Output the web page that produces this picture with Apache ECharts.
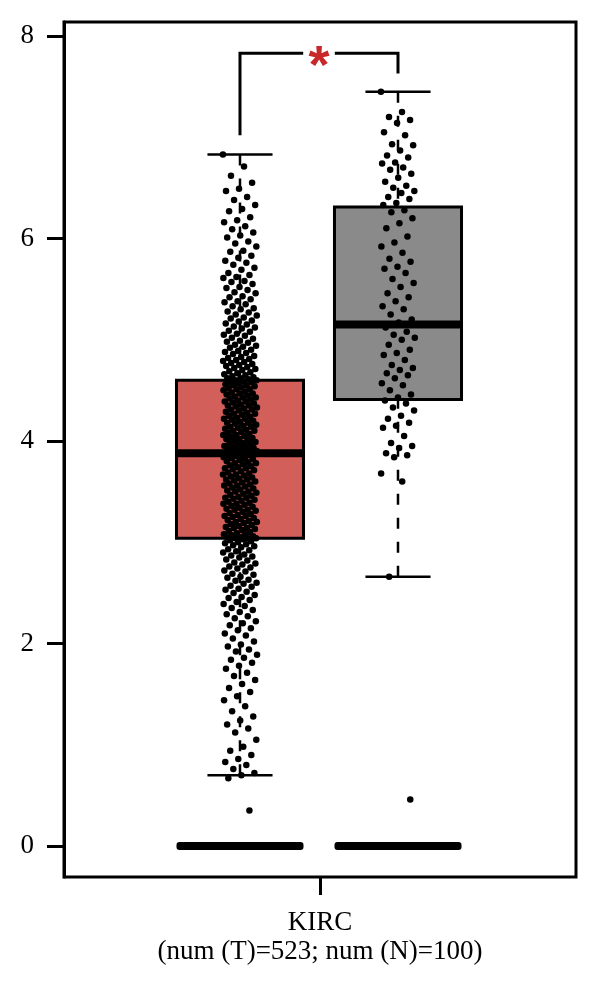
<!DOCTYPE html>
<html><head><meta charset="utf-8">
<script src="https://cdn.jsdelivr.net/npm/echarts@6/dist/echarts.min.js"></script>
<style>html,body{margin:0;padding:0;background:#fff}#c{width:600px;height:987px}</style>
</head><body><div id="c"></div>
<script>
// ---- data ----
const groups = ['Tumor', 'Normal'];
const groupPos = [1, 2];
// [lower whisker, Q1, median, Q3, upper whisker]
const tumorBox = [0.70, 3.04, 3.88, 4.60, 6.83];
const normalBox = [2.66, 4.41, 5.15, 6.31, 7.45];
const zeroLevel = [0, 0];
const yTicks = [0, 2, 4, 6, 8];
const xCategory = ['KIRC\n(num (T)=523; num (N)=100)'];
const bracketY = [7.02, 7.83, 7.63]; // left foot, top, right foot
const sigMark = '*';

const tumorValues = [
6.83,6.71,6.62,6.55,6.49,6.47,6.41,6.38,6.33,6.29,6.27,6.21,6.18,6.16,6.12,6.09,6.06,6.03,6.01,5.97,
5.95,5.92,5.88,5.87,5.83,5.81,5.78,5.76,5.74,5.71,5.69,5.66,5.64,5.62,5.61,5.58,5.57,5.55,5.52,5.51,
5.49,5.47,5.46,5.43,5.42,5.40,5.38,5.37,5.35,5.33,5.31,5.30,5.28,5.27,5.25,5.24,5.22,5.21,5.19,5.18,
5.16,5.15,5.13,5.12,5.11,5.09,5.08,5.06,5.05,5.04,5.02,5.01,4.99,4.98,4.97,4.95,4.94,4.93,4.92,4.90,
4.89,4.88,4.87,4.86,4.84,4.83,4.82,4.81,4.80,4.79,4.78,4.77,4.76,4.75,4.74,4.73,4.72,4.71,4.70,4.69,
4.68,4.67,4.66,4.65,4.64,4.63,4.62,4.62,4.61,4.60,
4.60,4.59,4.58,4.58,4.57,4.56,4.55,4.55,4.54,4.53,4.52,4.51,4.51,4.50,4.49,4.48,4.47,4.47,4.46,4.45,
4.44,4.43,4.43,4.42,4.41,4.40,4.39,4.39,4.38,4.37,4.36,4.35,4.35,4.34,4.33,4.32,4.31,4.31,4.30,4.29,
4.28,4.27,4.27,4.26,4.25,4.24,4.23,4.22,4.22,4.21,4.20,4.19,4.18,4.18,4.17,4.16,4.15,4.14,4.14,4.13,
4.12,4.11,4.10,4.10,4.09,4.08,4.07,4.06,4.06,4.05,4.04,4.03,4.02,4.02,4.01,4.00,3.99,3.98,3.98,3.97,
3.96,3.95,3.95,3.94,3.93,3.93,3.92,3.91,3.91,3.90,3.90,3.89,3.89,3.88,3.88,3.88,3.87,3.87,3.86,3.86,
3.86,3.85,3.84,3.83,3.83,3.82,3.81,3.80,3.79,3.78,3.78,3.77,3.76,3.75,3.74,3.73,3.73,3.72,3.71,3.70,
3.69,3.68,3.67,3.67,3.66,3.65,3.64,3.63,3.62,3.62,3.61,3.60,3.59,3.58,3.57,3.56,3.56,3.55,3.54,3.53,
3.52,3.51,3.50,3.50,3.49,3.48,3.47,3.46,3.45,3.44,3.44,3.43,3.42,3.41,3.40,3.39,3.38,3.38,3.37,3.36,
3.35,3.34,3.33,3.32,3.32,3.31,3.30,3.29,3.28,3.27,3.26,3.26,3.25,3.24,3.23,3.22,3.21,3.20,3.20,3.19,
3.18,3.17,3.16,3.15,3.14,3.14,3.13,3.12,3.11,3.10,3.09,3.08,3.08,3.07,3.06,3.05,3.05,3.04,3.04,3.04,
3.03,3.02,3.01,3.00,2.99,2.98,2.97,2.96,2.95,2.93,2.92,2.91,2.90,2.88,2.87,2.86,2.85,2.83,2.82,2.80,
2.79,2.78,2.76,2.75,2.74,2.72,2.71,2.69,2.68,2.66,2.65,2.63,2.62,2.60,2.59,2.57,2.56,2.54,2.53,2.51,
2.50,2.48,2.46,2.45,2.43,2.41,2.39,2.37,2.35,2.33,2.31,2.29,2.27,2.25,2.22,2.20,2.18,2.15,2.13,2.10,
2.08,2.05,2.02,1.99,1.97,1.94,1.92,1.89,1.86,1.84,1.81,1.78,1.75,1.71,1.68,1.64,1.60,1.56,1.52,1.48,
1.44,1.38,1.33,1.28,1.24,1.20,1.16,1.12,1.05,0.98,0.94,0.90,0.86,0.83,0.80,0.76,0.72,0.70,0.67,0.35
];

const normalValues = [
7.45,7.25,7.20,7.17,7.14,7.05,7.02,6.93,6.92,6.87,6.82,6.80,6.75,6.74,6.70,6.68,6.64,6.60,6.56,6.52,
6.50,6.47,6.45,6.41,6.39,6.35,6.33,6.28,6.26,6.20,6.15,6.10,6.02,5.96,5.92,5.86,5.80,5.77,5.72,5.70,
5.66,5.60,5.56,5.52,5.46,5.42,5.38,5.33,5.30,5.25,5.20,5.17,5.12,5.08,5.05,5.02,5.00,4.95,4.90,4.87,
4.85,4.80,4.75,4.72,4.70,4.67,4.65,4.62,4.57,4.55,4.50,4.46,4.43,4.40,4.37,4.33,4.30,4.25,4.22,4.18,
4.15,4.13,4.05,3.98,3.95,3.93,3.88,3.86,3.84,3.68,3.60,2.66,0.46
];

// ---- chart ----
const boxColors = ['#d35f5a', '#8a8a8a'];
const HALF_BOX = 0.402, HALF_CAP = 0.206, JITTER = 0.108;
const jitter = i => ((i * 0.6180339887) % 1 - 0.5) * 2 * JITTER;

function renderBox(params, api) {
  const x = api.value(0);
  const lo = api.value(1), q1 = api.value(2), med = api.value(3), q3 = api.value(4), hi = api.value(5);
  const tl = api.coord([x - HALF_BOX, q3]), br = api.coord([x + HALF_BOX, q1]);
  const mL = api.coord([x - HALF_BOX, med]), mR = api.coord([x + HALF_BOX, med]);
  const pHi = api.coord([x, hi]), pQ3 = api.coord([x, q3]), pQ1 = api.coord([x, q1]), pLo = api.coord([x, lo]);
  const cL = api.coord([x - HALF_CAP, hi])[0], cR = api.coord([x + HALF_CAP, hi])[0];
  const lw = {stroke: '#000', lineWidth: 2.5};
  return {type: 'group', children: [
    {type: 'line', shape: {x1: pHi[0], y1: pHi[1], x2: pQ3[0], y2: pQ3[1]}, style: Object.assign({lineDash: [11, 13]}, lw)},
    {type: 'line', shape: {x1: pLo[0], y1: pLo[1], x2: pQ1[0], y2: pQ1[1]}, style: Object.assign({lineDash: [11, 13]}, lw)},
    {type: 'line', shape: {x1: cL, y1: pHi[1], x2: cR, y2: pHi[1]}, style: lw},
    {type: 'line', shape: {x1: cL, y1: pLo[1], x2: cR, y2: pLo[1]}, style: lw},
    {type: 'rect', shape: {x: tl[0], y: tl[1], width: br[0] - tl[0], height: br[1] - tl[1]},
      style: {fill: boxColors[params.dataIndex], stroke: '#000', lineWidth: 3}},
    {type: 'line', shape: {x1: mL[0], y1: mL[1], x2: mR[0], y2: mR[1]}, style: {stroke: '#000', lineWidth: 8}, z2: 10}
  ]};
}

function renderZero(params, api) {
  const a = api.coord([api.value(0) - HALF_BOX, api.value(1)]);
  const b = api.coord([api.value(0) + HALF_BOX, api.value(1)]);
  return {type: 'rect', shape: {x: a[0], y: a[1] - 4, width: b[0] - a[0], height: 8, r: 3}, style: {fill: '#000'}};
}

function renderBracket(params, api) {
  const x1 = api.value(0), x2 = api.value(1);
  const yl = api.value(2), yt = api.value(3), yr = api.value(4);
  const p1 = api.coord([x1, yl]), p2 = api.coord([x1, yt]);
  const g1 = api.coord([x1 + 0.40, yt]), g2 = api.coord([x2 - 0.40, yt]);
  const p3 = api.coord([x2, yt]), p4 = api.coord([x2, yr]);
  const mid = api.coord([(x1 + x2) / 2, yt]);
  const st = {stroke: '#000', lineWidth: 3, fill: null};
  return {type: 'group', children: [
    {type: 'polyline', shape: {points: [p1, p2, g1]}, style: st},
    {type: 'polyline', shape: {points: [g2, p3, p4]}, style: st},
    {type: 'text', x: mid[0], y: mid[1] + 15, style: {text: sigMark, fill: '#c8282a',
      font: 'bold 54px "Liberation Sans"', align: 'center', verticalAlign: 'middle'}}
  ]};
}

const chart = echarts.init(document.getElementById('c'), null, {renderer: 'canvas'});
chart.setOption({
  animation: false,
  backgroundColor: '#fff',
  grid: {left: 64, right: 24, top: 22, bottom: 110, show: true, borderColor: '#000', borderWidth: 3, backgroundColor: 'transparent'},
  xAxis: [
    {type: 'value', min: -0.1139, max: 3.1266, show: false},
    {type: 'category', data: xCategory, position: 'bottom', boundaryGap: true,
      axisLine: {show: false}, splitLine: {show: false},
      axisTick: {show: true, alignWithLabel: true, length: 18, lineStyle: {color: '#000', width: 3}},
      axisLabel: {fontFamily: 'Liberation Serif', fontSize: 27, color: '#000', lineHeight: 29, margin: 31}}
  ],
  yAxis: {
    type: 'value', min: -0.306, max: 8.138,
    axisLine: {show: true, onZero: false, lineStyle: {color: '#000', width: 3}},
    axisTick: {show: true, length: 17, customValues: yTicks, lineStyle: {color: '#000', width: 3}},
    axisLabel: {customValues: yTicks, fontFamily: 'Liberation Serif', fontSize: 27, color: '#000', margin: 30},
    splitLine: {show: false}
  },
  series: [
    {type: 'custom', xAxisIndex: 0, renderItem: renderBox, z: 2,
      data: [tumorBox, normalBox].map((s, i) => [groupPos[i]].concat(s))},
    {type: 'custom', xAxisIndex: 0, renderItem: renderZero, z: 4,
      data: groupPos.map((p, i) => [p, zeroLevel[i]])},
    {name: groups[0], type: 'scatter', xAxisIndex: 0, symbolSize: 6.5, itemStyle: {color: '#000', opacity: 1}, z: 3,
      data: tumorValues.map((v, i) => [groupPos[0] + jitter(i), v])},
    {name: groups[1], type: 'scatter', xAxisIndex: 0, symbolSize: 6.5, itemStyle: {color: '#000', opacity: 1}, z: 3,
      data: normalValues.map((v, i) => [groupPos[1] + jitter(i), v])},
    {type: 'custom', xAxisIndex: 0, renderItem: renderBracket, z: 5,
      data: [[groupPos[0], groupPos[1]].concat(bracketY)]}
  ]
});
</script></body></html>
